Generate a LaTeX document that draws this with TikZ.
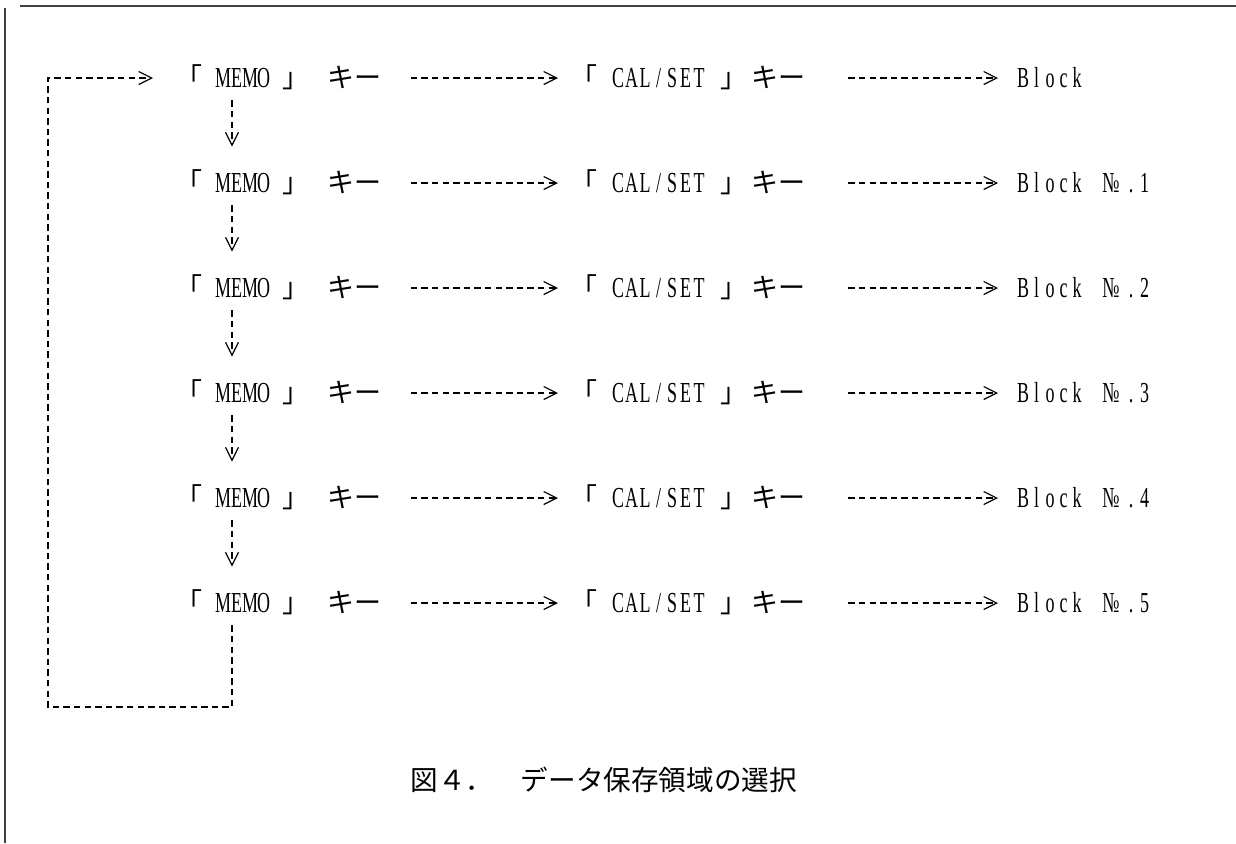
\documentclass[tikz,border=0pt]{standalone}
\usepackage{fontspec}
\newfontfamily\cj{Noto Sans CJK JP}
\newfontfamily\lat[FakeStretch=0.62]{Liberation Serif}
\usepackage{tikz}
\usetikzlibrary{arrows.meta}

\newcommand\jp[1]{{\cj\fontsize{13.5}{16}\selectfont #1}}
% half-width cells, as in the mincho original
\def\hwx#1{\ifx\relax#1\else\makebox[6.75pt]{#1}\expandafter\hwx\fi}
\newcommand\hw[1]{\hwx#1\relax}
\newcommand\memokey{\jp{「}\hspace{7pt}\hw{MEMO}\hspace{6pt}\jp{」}\hspace{9pt}\jp{キー}}
\newcommand\calkey{\jp{「}\hspace{7pt}\hw{CAL/SET}\hspace{7.5pt}\jp{」}\hspace{2pt}\jp{キー}}
\newcommand\blkno[1]{\hw{Block~}\makebox[13.5pt]{№}\hw{.#1}}

\begin{document}
\begin{tikzpicture}[x=0.5pt,y=-0.5pt,
    key/.style={anchor=west,inner sep=0pt,text height=9pt,text depth=0pt,
      font=\lat\fontsize{14.5}{16}\selectfont},
    flow/.style={dash pattern=on 3.2pt off 2.1pt,line width=0.6pt,
      -{Straight Barb[length=6.5pt,width=6.5pt]}},
    hflow/.style={flow,shorten <=14.5pt,shorten >=6pt},
    bflow/.style={flow,shorten <=21pt,shorten >=9pt},
    vflow/.style={flow,shorten <=6.5pt,shorten >=13.5pt},
    border/.style={line width=0.9pt,black!75}]
  \useasboundingbox (0,0) rectangle (1236,843);
  \draw[border] (20,6) -- (1236,6);
  \draw[border] (5,8) -- (5,843);

  \node[key] (memo1) at (175,78) {\memokey};
  \node[key] (cal1) at (570,78) {\calkey};
  \node[key] (blk1) at (1016,78) {\hw{Block}};

  \node[key] (memo2) at (175,183) {\memokey};
  \node[key] (cal2) at (570,183) {\calkey};
  \node[key] (blk2) at (1016,183) {\blkno{1}};

  \node[key] (memo3) at (175,288) {\memokey};
  \node[key] (cal3) at (570,288) {\calkey};
  \node[key] (blk3) at (1016,288) {\blkno{2}};

  \node[key] (memo4) at (175,393) {\memokey};
  \node[key] (cal4) at (570,393) {\calkey};
  \node[key] (blk4) at (1016,393) {\blkno{3}};

  \node[key] (memo5) at (175,498) {\memokey};
  \node[key] (cal5) at (570,498) {\calkey};
  \node[key] (blk5) at (1016,498) {\blkno{4}};

  \node[key] (memo6) at (175,603) {\memokey};
  \node[key] (cal6) at (570,603) {\calkey};
  \node[key] (blk6) at (1016,603) {\blkno{5}};

  \node[anchor=west,inner sep=0pt,font=\cj\fontsize{13.8}{16}\selectfont]
    (cap) at (410,780) {図４．　データ保存領域の選択};

  % across
  \draw[hflow] (memo1.east) -- (cal1.west);
  \draw[bflow] (cal1.east) -- (blk1.west);
  \draw[hflow] (memo2.east) -- (cal2.west);
  \draw[bflow] (cal2.east) -- (blk2.west);
  \draw[hflow] (memo3.east) -- (cal3.west);
  \draw[bflow] (cal3.east) -- (blk3.west);
  \draw[hflow] (memo4.east) -- (cal4.west);
  \draw[bflow] (cal4.east) -- (blk4.west);
  \draw[hflow] (memo5.east) -- (cal5.west);
  \draw[bflow] (cal5.east) -- (blk5.west);
  \draw[hflow] (memo6.east) -- (cal6.west);
  \draw[bflow] (cal6.east) -- (blk6.west);

  % down
  \draw[vflow] ([xshift=28.5pt]memo1.south west) -- ([xshift=28.5pt]memo2.north west);
  \draw[vflow] ([xshift=28.5pt]memo2.south west) -- ([xshift=28.5pt]memo3.north west);
  \draw[vflow] ([xshift=28.5pt]memo3.south west) -- ([xshift=28.5pt]memo4.north west);
  \draw[vflow] ([xshift=28.5pt]memo4.south west) -- ([xshift=28.5pt]memo5.north west);
  \draw[vflow] ([xshift=28.5pt]memo5.south west) -- ([xshift=28.5pt]memo6.north west);

  % back to the top
  \coordinate (loopb) at (48,707);
  \draw[flow,shorten <=6.5pt,shorten >=11pt] ([xshift=28.5pt]memo6.south west) |- (loopb) |- (memo1.west);
\end{tikzpicture}
\end{document}
